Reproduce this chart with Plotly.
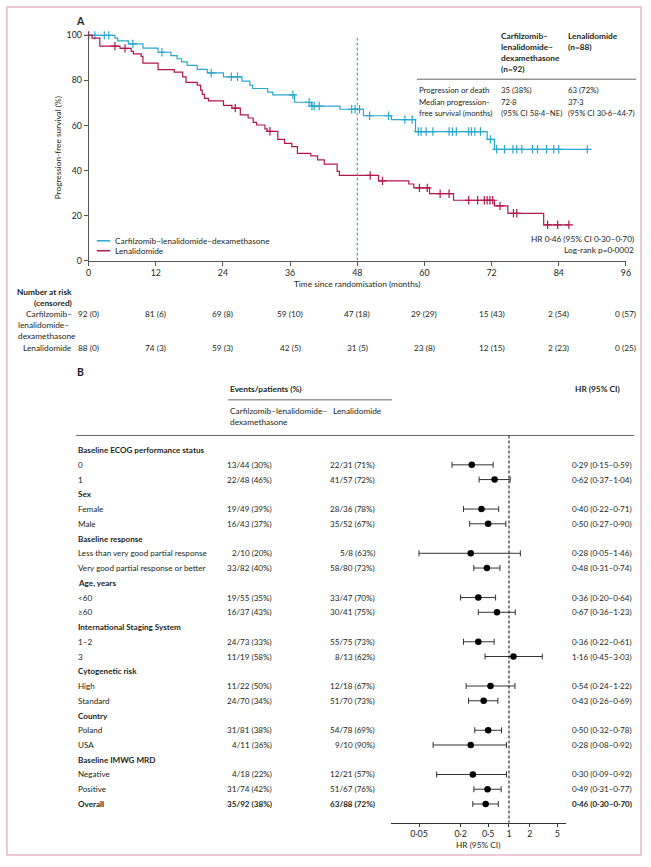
import numpy as np
import plotly.graph_objects as go

W, H = 651, 867
FONT = "Lato"
FS = 8.3
INK = "#231f20"
BLUE = "#29a8cc"
RED = "#b3164b"

# ---- panel A: Kaplan-Meier data ----
krd_t = [0, 4.7, 5.2, 7.1, 9.7, 12.4, 14.7, 15.8, 16.6, 17.6, 19.4, 21.2, 24.1, 27.4, 28.8, 29.3,
         32.0, 32.9, 36.8, 39.8, 44.9, 49.1, 54.1, 58.4, 71.2, 72.5, 89.1]
krd_s = [100, 98.8, 97.5, 96.2, 94.3, 92.5, 91.0, 89.6, 88.2, 86.7, 84.9, 83.3, 81.6, 79.7, 77.9, 76.4,
         74.8, 73.6, 70.3, 68.6, 67.2, 64.3, 62.6, 57.3, 53.8, 49.4, 49.4]
krd_cens = [1.1, 2.8, 3.6, 7.9, 13.1, 21.9, 25.5, 26.6, 36.5, 39.4, 39.9, 40.3, 41.2, 47.0, 47.6, 48.4,
            50.2, 53.6, 56.5, 57.8, 58.9, 59.4, 60.3, 61.5, 64.4, 65.0, 65.7, 67.9, 68.4, 69.0, 70.0,
            71.8, 72.9, 74.3, 75.8, 76.5, 77.4, 79.3, 80.2, 81.8, 83.1, 84.0, 89.1]

rd_t = [0, 0.6, 2.0, 5.6, 7.6, 8.0, 9.4, 9.7, 12.4, 15.3, 16.8, 17.4, 19.4, 20.0, 20.3, 20.7, 21.4,
        24.1, 25.6, 27.1, 28.5, 29.4, 30.0, 31.5, 31.9, 33.8, 35.0, 36.3, 37.3, 39.7, 40.9, 42.1,
        44.4, 44.8, 51.8, 57.2, 58.1, 60.9, 65.2, 72.5, 74.9, 81.3, 85.8]
rd_s = [100, 98.8, 95.2, 94.2, 92.9, 91.8, 90.7, 87.7, 84.8, 83.7, 81.6, 79.1, 77.9, 75.7, 73.8, 72.0,
        70.9, 68.9, 67.7, 64.7, 63.3, 61.4, 60.2, 58.5, 57.4, 53.8, 52.0, 50.6, 47.6, 46.5, 44.7, 42.8,
        39.6, 37.8, 35.4, 34.0, 32.3, 29.7, 26.8, 24.3, 21.0, 15.9, 15.9]
rd_cens = [0, 4.7, 6.5, 26.2, 32.4, 50.3, 52.5, 59.1, 60.5, 62.8, 64.4, 67.9, 69.5, 70.7, 71.2, 71.7,
           72.2, 73.5, 75.9, 76.5, 82.0, 83.8, 85.8]

risk_times = [0, 12, 24, 36, 48, 60, 72, 84, 96]
krd_at_risk = [92, 81, 69, 59, 47, 29, 15, 2, 0]
krd_censored = [0, 6, 8, 10, 18, 29, 43, 54, 57]
rd_at_risk = [88, 74, 59, 42, 31, 23, 12, 2, 0]
rd_censored = [0, 3, 3, 5, 5, 8, 15, 23, 25]

# ---- panel B: forest plot data ----
row_labels = ["Baseline ECOG performance status", "0", "1", "Sex", "Female", "Male",
              "Baseline response", "Less than very good partial response",
              "Very good partial response or better", "Age, years", "<60", "≥60",
              "International Staging System", "1–2", "3", "Cytogenetic risk", "High", "Standard",
              "Country", "Poland", "USA", "Baseline IMWG MRD", "Negative", "Positive", "Overall"]
krd_events = [None, "13/44 (30%)", "22/48 (46%)", None, "19/49 (39%)", "16/43 (37%)", None,
              "2/10 (20%)", "33/82 (40%)", None, "19/55 (35%)", "16/37 (43%)", None,
              "24/73 (33%)", "11/19 (58%)", None, "11/22 (50%)", "24/70 (34%)", None,
              "31/81 (38%)", "4/11 (36%)", None, "4/18 (22%)", "31/74 (42%)", "35/92 (38%)"]
rd_events = [None, "22/31 (71%)", "41/57 (72%)", None, "28/36 (78%)", "35/52 (67%)", None,
             "5/8 (63%)", "58/80 (73%)", None, "33/47 (70%)", "30/41 (75%)", None,
             "55/75 (73%)", "8/13 (62%)", None, "12/18 (67%)", "51/70 (73%)", None,
             "54/78 (69%)", "9/10 (90%)", None, "12/21 (57%)", "51/67 (76%)", "63/88 (72%)"]
hr = [None, 0.29, 0.62, None, 0.40, 0.50, None, 0.28, 0.48, None, 0.36, 0.67, None, 0.36, 1.16,
      None, 0.54, 0.43, None, 0.50, 0.28, None, 0.30, 0.49, 0.46]
hr_lo = [None, 0.15, 0.37, None, 0.22, 0.27, None, 0.05, 0.31, None, 0.20, 0.36, None, 0.22, 0.45,
         None, 0.24, 0.26, None, 0.32, 0.08, None, 0.09, 0.31, 0.30]
hr_hi = [None, 0.59, 1.04, None, 0.71, 0.90, None, 1.46, 0.74, None, 0.64, 1.23, None, 0.61, 3.03,
         None, 1.22, 0.69, None, 0.78, 0.92, None, 0.92, 0.77, 0.70]
hr_ticks = [0.05, 0.2, 0.5, 1, 2, 5]


def px(x):
    return x / W


def py(y):
    return 1 - y / H


def dot(v):
    return f"{v:.2f}".replace(".", "·")


def km_at(times, surv, t):
    i = np.searchsorted(times, t, side="right") - 1
    return surv[max(i, 0)]


fig = go.Figure()

for t, s, cens, col in [(krd_t, krd_s, krd_cens, BLUE), (rd_t, rd_s, rd_cens, RED)]:
    fig.add_trace(go.Scatter(x=t, y=s, mode="lines", line=dict(color=col, width=1.2, shape="hv"),
                             showlegend=False, hoverinfo="skip"))
    fig.add_trace(go.Scatter(x=cens, y=[km_at(t, s, c) for c in cens], mode="markers",
                             marker=dict(symbol="cross-thin", size=6, line=dict(color=col, width=1.2)),
                             cliponaxis=False, showlegend=False, hoverinfo="skip"))

# forest plot
rows = list(range(len(row_labels)))
fr = [r for r in rows if hr[r] is not None]
fig.add_trace(go.Scatter(
    x=[hr[r] for r in fr], y=fr, xaxis="x2", yaxis="y2", mode="markers",
    marker=dict(color="black", size=6.5),
    error_x=dict(type="data", symmetric=False,
                 array=[hr_hi[r] - hr[r] for r in fr],
                 arrayminus=[hr[r] - hr_lo[r] for r in fr],
                 color="#333333", thickness=1, width=3),
    showlegend=False, hoverinfo="skip"))

tickfont = dict(family=FONT, size=8.8, color=INK)
fig.update_layout(
    width=W, height=H, autosize=False,
    margin=dict(l=0, r=0, t=0, b=0),
    paper_bgcolor="white", plot_bgcolor="white",
    font=dict(family=FONT, size=FS, color=INK),
    xaxis=dict(domain=[px(86.7), px(630.7)], range=[0, 96], tickvals=risk_times, ticks="outside",
               ticklen=4, tickcolor="#555", showline=True, linecolor="#555", linewidth=1,
               showgrid=False, zeroline=False, tickfont=tickfont, anchor="y"),
    yaxis=dict(domain=[py(259.3), py(29.4)], range=[0, 101], tickvals=[0, 20, 40, 60, 80, 100],
               ticks="outside", ticklen=4, tickcolor="#555", showline=True, linecolor="#555",
               linewidth=1, showgrid=False, zeroline=False, tickfont=tickfont, anchor="x"),
    xaxis2=dict(domain=[px(392.7), px(570)], type="log", range=[np.log10(0.0196), np.log10(6.67)],
                tickvals=hr_ticks, ticktext=[str(v).replace(".", "·") for v in hr_ticks],
                ticks="outside", ticklen=3, tickcolor="#333", showline=True, linecolor="#333",
                linewidth=1, showgrid=False, zeroline=False, tickfont=tickfont, anchor="y2"),
    yaxis2=dict(domain=[py(827.3), py(436)], range=[25.27, -0.99], visible=False, anchor="x2"),
)

shapes = [
    # outer frame
    dict(type="rect", xref="paper", yref="paper", x0=px(4), x1=px(646), y0=py(860), y1=py(3),
         line=dict(color="#e8b5c8", width=1.5)),
    # 48-month marker
    dict(type="line", xref="x", yref="y", x0=48, x1=48, y0=0, y1=100,
         line=dict(color="#4a8a9a", width=1, dash="3px,2px")),
    # table rule panel A
    dict(type="line", xref="paper", yref="paper", x0=px(419), x1=px(641), y0=py(76), y1=py(76),
         line=dict(color="#666", width=1)),
    # legend samples
    dict(type="line", xref="paper", yref="paper", x0=px(95), x1=px(108.5), y0=py(239.3), y1=py(239.3),
         line=dict(color=BLUE, width=1.5)),
    dict(type="line", xref="paper", yref="paper", x0=px(95), x1=px(108.5), y0=py(249.3), y1=py(249.3),
         line=dict(color=RED, width=1.5)),
    # panel B header rules
    dict(type="line", xref="paper", yref="paper", x0=px(228), x1=px(394), y0=py(400), y1=py(400),
         line=dict(color="#666", width=1)),
    dict(type="line", xref="paper", yref="paper", x0=px(74), x1=px(639), y0=py(436), y1=py(436),
         line=dict(color="#666", width=1)),
    # line of no effect
    dict(type="line", xref="x2", yref="y2", x0=1, x1=1, y0=-0.99, y1=25.27,
         line=dict(color="black", width=1, dash="3px,2px")),
]

ann = []


def txt(x, y, s, xanchor="left", bold=False, size=FS, xref="paper", yref="paper", **kw):
    ann.append(dict(x=x, y=y, xref=xref, yref=yref, text=f"<b>{s}</b>" if bold else s,
                    showarrow=False, xanchor=xanchor, yanchor="middle",
                    font=dict(family=FONT, size=size, color=INK), **kw))


# panel A texts
txt(px(72), py(17), "A", bold=True, size=10.5)
txt(px(56), py(145.5), "Progression-free survival (%)", xanchor="center", textangle=-90)
txt(px(358.7), py(283), "Time since randomisation (months)", xanchor="center")
txt(px(111.5), py(239.3), "Carfilzomib–lenalidomide–dexamethasone")
txt(px(111.5), py(249.3), "Lenalidomide")
for i, line in enumerate(["Carfilzomib–", "lenalidomide–", "dexamethasone", "(n=92)"]):
    txt(px(502), py(32.3 + 11.2 * i), line, bold=True)
for i, line in enumerate(["Lenalidomide", "(n=88)"]):
    txt(px(570), py(32.3 + 11.2 * i), line, bold=True)
table_rows = [("Progression or death", "35 (38%)", "63 (72%)"),
              ("Median progression-", "72·8", "37·3"),
              ("free survival (months)", "(95% CI 58·4–NE)", "(95% CI 30·6–44·7)")]
for i, (a, b, c) in enumerate(table_rows):
    y = py(87.3 + 11.4 * i)
    txt(px(419), y, a, size=7.8)
    txt(px(502), y, b, size=7.8)
    txt(px(570), y, c, size=7.8)
txt(px(641), py(237.3), "HR 0·46 (95% CI 0·30–0·70)", xanchor="right")
txt(px(641), py(248.3), "Log-rank p=0·0002", xanchor="right")

# number at risk
txt(px(71.5), py(291), "Number at risk", xanchor="right", bold=True)
txt(px(71.5), py(302.3), "(censored)", xanchor="right", bold=True)
txt(px(71.5), py(313.5), "Carfilzomib–", xanchor="right")
txt(px(13), py(324.5), "lenalidomide–")
txt(px(13), py(335.5), "dexamethasone")
txt(px(71.5), py(347.3), "Lenalidomide", xanchor="right")
for t, a, c in zip(risk_times, krd_at_risk, krd_censored):
    txt(t, py(313.5), f"{a} ({c})", xanchor="center", xref="x")
for t, a, c in zip(risk_times, rd_at_risk, rd_censored):
    txt(t, py(347.3), f"{a} ({c})", xanchor="center", xref="x")

# panel B texts
txt(px(73), py(372), "B", bold=True, size=10.5)
txt(px(228), py(389.5), "Events/patients (%)", bold=True)
txt(px(577), py(389.5), "HR (95% CI)", bold=True)
txt(px(228), py(411.5), "Carfilzomib–lenalidomide–")
txt(px(228), py(422.8), "dexamethasone")
txt(px(332), py(411.5), "Lenalidomide")
for r in rows:
    header = hr[r] is None
    overall = row_labels[r] == "Overall"
    txt(px(74), r, row_labels[r], bold=header or overall, yref="y2", size=8.1)
    if not header:
        txt(px(274.5), r, krd_events[r], xanchor="right", bold=overall, yref="y2", size=8.1)
        txt(px(378.5), r, rd_events[r], xanchor="right", bold=overall, yref="y2", size=8.1)
        txt(px(638.5), r, f"{dot(hr[r])} ({dot(hr_lo[r])}–{dot(hr_hi[r])})", xanchor="right",
            bold=overall, yref="y2", size=8.1)
txt(px(481), py(850), "HR (95% CI)", xanchor="center")

fig.update_layout(shapes=shapes, annotations=ann)
# drop the browser's default 8px page margin so the figure sits at the window's corner
fig.write_html("out.html", config={"displayModeBar": False},
               post_script="document.body.style.margin='0';")
